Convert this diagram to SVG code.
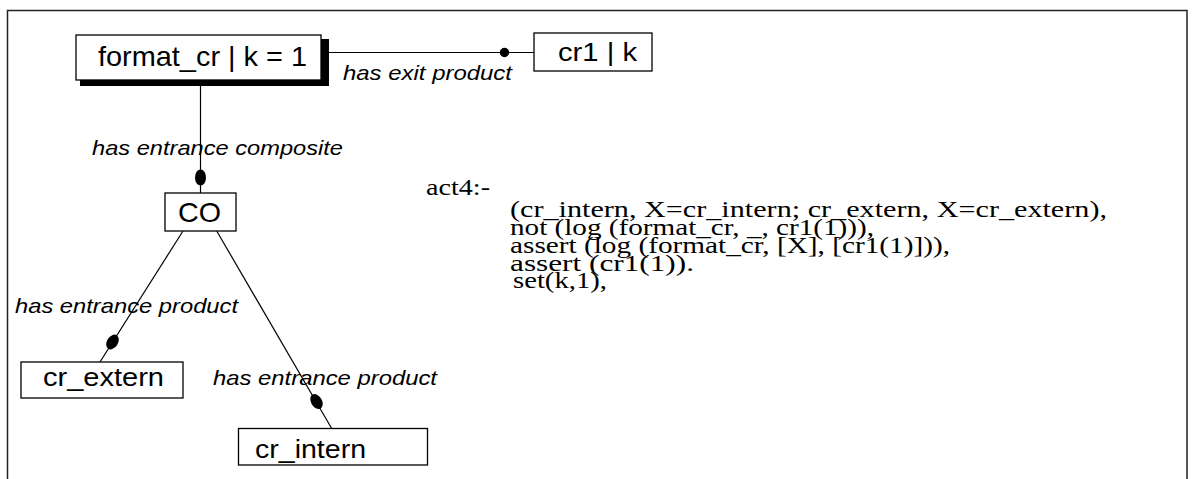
<svg xmlns="http://www.w3.org/2000/svg" width="1195" height="479" viewBox="0 0 1195 479">
<style>
.box{fill:#fff;stroke:#000;stroke-width:1.3}
.nt{font-family:"Liberation Sans",Arial,sans-serif;fill:#000}
.lb{font-family:"Liberation Sans",Arial,sans-serif;font-style:italic;font-size:21px;fill:#000}
.code{font-family:"Liberation Serif","Times New Roman",serif;font-size:23px;fill:#000}
.ln{stroke:#000;stroke-width:1.2;fill:none}
.dot{fill:#000}
</style>
<rect width="1195" height="479" fill="#fff"/>
<path d="M7.5,479 V10.5 H1187 V479" fill="none" stroke="#222" stroke-width="1.5"/>
<g id="connectors">
<line class="ln" x1="329" y1="52.5" x2="534" y2="52.5"/>
<circle class="dot" cx="504.5" cy="52.5" r="4.7"/>
<line class="ln" x1="200.5" y1="86" x2="200.5" y2="193"/>
<ellipse class="dot" cx="200.5" cy="177.5" rx="5.5" ry="8"/>
<line class="ln" x1="183" y1="231" x2="100" y2="362"/>
<ellipse class="dot" cx="112.5" cy="342" rx="5.5" ry="8" transform="rotate(32.4 112.5 342)"/>
<line class="ln" x1="216.7" y1="231" x2="331.7" y2="428.5"/>
<ellipse class="dot" cx="316.5" cy="401.5" rx="5.5" ry="8" transform="rotate(-30.2 316.5 401.5)"/>
<text class="lb" x="343" y="80" textLength="169" lengthAdjust="spacingAndGlyphs">has exit product</text>
<text class="lb" x="92" y="155" textLength="251" lengthAdjust="spacingAndGlyphs">has entrance composite</text>
<text class="lb" x="15" y="313" textLength="223" lengthAdjust="spacingAndGlyphs">has entrance product</text>
<text class="lb" x="213" y="385" textLength="224" lengthAdjust="spacingAndGlyphs">has entrance product</text>
</g>
<g id="node-format_cr">
<rect x="80" y="39" width="249" height="47" fill="#000"/>
<rect class="box" x="76" y="35" width="245" height="45"/>
<text class="nt" x="98" y="66" font-size="28" textLength="209" lengthAdjust="spacingAndGlyphs">format_cr | k = 1</text>
</g>
<g id="node-cr1">
<rect class="box" x="534" y="33" width="118" height="38"/>
<text class="nt" x="558" y="61" font-size="26" textLength="79" lengthAdjust="spacingAndGlyphs">cr1 | k</text>
</g>
<g id="node-CO">
<rect class="box" x="165" y="193" width="71" height="38"/>
<text class="nt" x="178" y="222" font-size="28" textLength="43" lengthAdjust="spacingAndGlyphs">CO</text>
</g>
<g id="node-cr_extern">
<rect class="box" x="21" y="362" width="162" height="36"/>
<text class="nt" x="43" y="386" font-size="26" textLength="121" lengthAdjust="spacingAndGlyphs">cr_extern</text>
</g>
<g id="node-cr_intern">
<rect class="box" x="238.5" y="428.5" width="189" height="36.5"/>
<text class="nt" x="255" y="458" font-size="26" textLength="111" lengthAdjust="spacingAndGlyphs">cr_intern</text>
</g>
<g id="code">
<text class="code" x="426" y="195" textLength="64" lengthAdjust="spacingAndGlyphs">act4:-</text>
<text class="code" x="510" y="217" textLength="597" lengthAdjust="spacingAndGlyphs">(cr_intern, X=cr_intern; cr_extern, X=cr_extern),</text>
<text class="code" x="510" y="235" textLength="364" lengthAdjust="spacingAndGlyphs">not (log (format_cr, _, cr1(1))),</text>
<text class="code" x="510" y="253" textLength="440" lengthAdjust="spacingAndGlyphs">assert (log (format_cr, [X], [cr1(1)])),</text>
<text class="code" x="510" y="271" textLength="184" lengthAdjust="spacingAndGlyphs">assert (cr1(1)).</text>
<text class="code" x="513" y="288" textLength="94" lengthAdjust="spacingAndGlyphs">set(k,1),</text>
</g>
</svg>
